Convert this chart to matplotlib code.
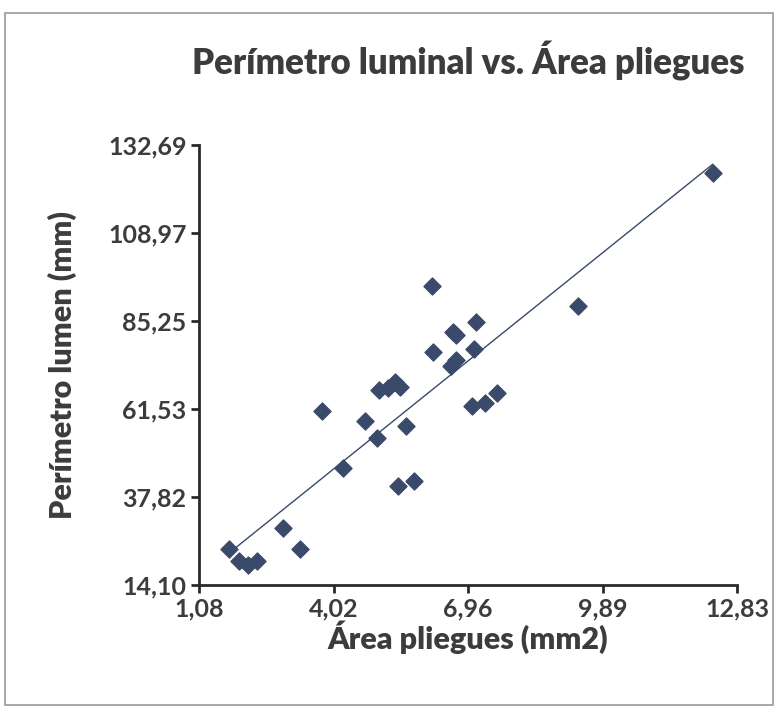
import numpy as np
import matplotlib

matplotlib.use("Agg")
from matplotlib import pyplot as plt
from matplotlib.patches import Rectangle

# area of folds (mm2) vs luminal perimeter (mm)
area_mm2 = [1.73, 1.96, 2.16, 2.34, 2.92, 3.29, 3.76, 4.23, 4.70, 4.97,
            5.01, 5.21, 5.36, 5.48, 5.42, 5.61, 5.78, 6.16, 6.20, 6.58,
            6.69, 6.62, 6.69, 7.05, 7.08, 7.14, 7.33, 7.59, 9.35, 12.30]
perimeter_mm = [23.9, 20.6, 19.4, 20.6, 29.5, 23.9, 61.1, 45.7, 58.2, 53.6,
                66.7, 67.1, 68.9, 67.6, 40.8, 56.9, 42.2, 94.6, 76.8, 73.2,
                74.7, 82.3, 81.6, 62.4, 77.8, 85.0, 63.1, 65.8, 89.4, 125.1]

x_ticks = [1.08, 4.0175, 6.955, 9.8925, 12.83]
x_tick_labels = ["1,08", "4,02", "6,96", "9,89", "12,83"]
y_ticks = [14.10, 37.818, 61.536, 85.254, 108.972, 132.69]
y_tick_labels = ["14,10", "37,82", "61,53", "85,25", "108,97", "132,69"]

text_color = "#3c3c3c"
point_color = "#3A4A6B"
font = "Lato"

fig = plt.figure(figsize=(7.78, 7.12), dpi=100)
fig.patches.append(Rectangle((0.007, 0.01), 0.986, 0.972, transform=fig.transFigure,
                             fill=False, edgecolor="#9a9a9a", linewidth=1.2))
ax = fig.add_axes([0.2558, 0.1784, 0.6915, 0.6179])

ax.scatter(area_mm2, perimeter_mm, marker="D", s=75, color=point_color, zorder=3)

slope, intercept = np.polyfit(area_mm2, perimeter_mm, 1)
xs = np.array([min(area_mm2), max(area_mm2)])
ax.plot(xs, slope * xs + intercept, color=point_color, linewidth=1.0, zorder=2)

ax.set_xlim(x_ticks[0], x_ticks[-1])
ax.set_ylim(y_ticks[0], y_ticks[-1])
ax.set_xticks(x_ticks)
ax.set_xticklabels(x_tick_labels)
ax.set_yticks(y_ticks)
ax.set_yticklabels(y_tick_labels)

for side in ("top", "right"):
    ax.spines[side].set_visible(False)
for side in ("left", "bottom"):
    ax.spines[side].set_linewidth(2.0)
    ax.spines[side].set_color("#2a2a2a")
ax.tick_params(direction="out", length=6, width=2, color="#2a2a2a",
               labelsize=18, labelcolor=text_color, pad=3)
for label in ax.get_xticklabels() + ax.get_yticklabels():
    label.set_fontfamily(font)
    label.set_fontweight("bold")

ax.set_xlabel("Área pliegues (mm2)", fontsize=22, fontweight="heavy",
              color=text_color, family=font, labelpad=0)
ax.set_ylabel("Perímetro lumen (mm)", fontsize=22, fontweight="heavy",
              color=text_color, family=font, labelpad=22)
fig.text(0.602, 0.914, "Perímetro luminal vs. Área pliegues", ha="center", va="center",
         fontsize=25, fontweight="heavy", color=text_color, family=font)

fig.savefig("out.png", dpi=100)
plt.close(fig)
